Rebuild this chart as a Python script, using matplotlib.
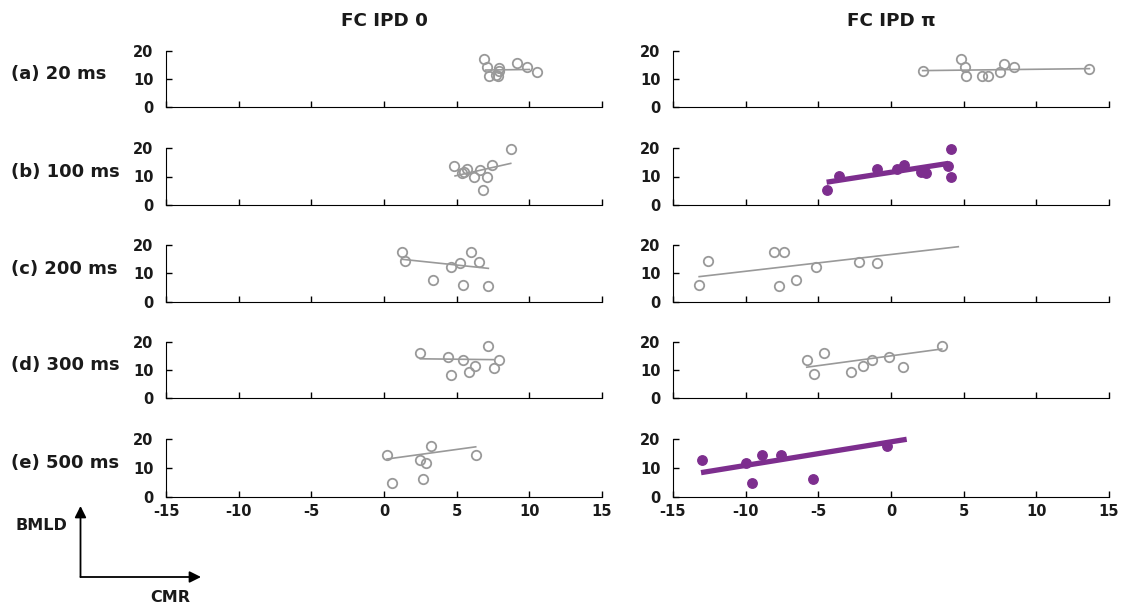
import matplotlib
matplotlib.use("Agg")
import matplotlib.pyplot as plt
from matplotlib.patches import FancyArrowPatch

plt.rcParams["font.family"] = ["DejaVu Sans"]
plt.rcParams["font.weight"] = "bold"
plt.rcParams["axes.unicode_minus"] = False

# row labels and column titles
row_labels = ["(a) 20 ms", "(b) 100 ms", "(c) 200 ms", "(d) 300 ms", "(e) 500 ms"]
col_titles = ["FC IPD 0", "FC IPD \u03c0"]

# FC IPD 0 : CMR (x) and BMLD (y) per row
ipd0_cmr = [
    [6.9, 7.07, 7.23, 7.7, 7.87, 7.94, 7.9, 9.18, 9.82, 10.5],
    [4.82, 5.35, 5.5, 5.73, 6.22, 6.6, 6.79, 7.11, 7.46, 8.72],
    [1.22, 1.45, 3.35, 4.59, 5.23, 5.46, 5.97, 6.56, 7.18],
    [2.5, 4.38, 4.59, 5.41, 5.83, 6.28, 7.18, 7.57, 7.94],
    [0.21, 0.53, 2.48, 2.7, 2.89, 3.23, 6.31],
]
ipd0_bmld = [
    [17.1, 14.4, 11.1, 11.5, 11.1, 13.8, 12.8, 15.6, 14.4, 12.6],
    [13.8, 11.3, 11.6, 12.5, 9.7, 12.3, 5.3, 9.9, 13.9, 19.6],
    [17.4, 14.4, 7.7, 12.2, 13.8, 6.0, 17.4, 14.1, 5.7],
    [16.0, 14.5, 8.2, 13.6, 9.2, 11.5, 18.7, 10.8, 13.7],
    [14.6, 4.9, 12.8, 6.3, 11.6, 17.7, 14.5],
]
ipd0_fit_x = [[7.0, 10.0], [4.89, 8.72], [1.22, 7.18], [2.5, 7.52], [0.21, 6.31]]
ipd0_fit_y = [[13.2, 13.4], [10.2, 14.6], [15.0, 11.8], [14.0, 13.7], [13.1, 17.3]]

# FC IPD pi
ipdpi_cmr = [
    [2.18, 4.82, 5.1, 5.14, 6.24, 6.7, 7.5, 7.78, 8.47, 13.65],
    [-4.38, -3.56, -0.99, 0.39, 0.92, 2.04, 2.39, 3.9, 4.11, 4.11],
    [-13.2, -12.57, -8.05, -7.71, -7.34, -6.54, -5.18, -2.2, -0.99],
    [-5.8, -5.32, -4.61, -2.78, -1.9, -1.29, -0.12, 0.8, 3.49],
    [-13.03, -10.0, -9.54, -8.9, -7.59, -5.39, -0.25],
]
ipdpi_bmld = [
    [13.0, 17.1, 14.4, 11.1, 11.2, 11.1, 12.6, 15.5, 14.4, 13.6],
    [5.3, 10.2, 12.5, 12.5, 13.9, 11.7, 11.1, 13.8, 19.6, 9.7],
    [6.0, 14.4, 17.4, 5.7, 17.4, 7.7, 12.2, 14.1, 13.8],
    [13.6, 8.5, 16.0, 9.3, 11.5, 13.7, 14.5, 11.0, 18.7],
    [12.8, 11.6, 4.9, 14.6, 14.6, 6.3, 17.7],
]
ipdpi_fit_x = [[2.18, 13.65], [-4.43, 3.95], [-13.2, 4.63], [-5.8, 3.49], [-13.07, 1.08]]
ipdpi_fit_y = [[13.0, 13.7], [8.0, 14.6], [8.9, 19.4], [11.0, 17.5], [8.4, 19.9]]
ipdpi_signif = [False, True, False, False, True]

x_ticks = [-15, -10, -5, 0, 5, 10, 15]
y_ticks = [0, 10, 20]

W, H = 1123, 610
fig = plt.figure(figsize=(W / 100, H / 100), dpi=100, facecolor="w")

col_left = [166, 673]
col_w = 436
row_span = [(51, 107), (148, 205), (245, 302), (342, 398), (439, 497)]

gray = "#999999"
purple = "#7d2e8e"
txt = "#1a1a1a"


def make_ax(col, row):
    top, bot = row_span[row]
    ax = fig.add_axes([col_left[col] / W, (H - bot) / H, col_w / W, (bot - top) / H])
    ax.set_xlim(-15, 15)
    ax.set_ylim(0, 20)
    ax.set_xticks(x_ticks)
    ax.set_yticks(y_ticks)
    for s in ["top", "right"]:
        ax.spines[s].set_visible(False)
    ax.tick_params(direction="in", length=4, width=1, labelsize=10.5, pad=9,
                   labelcolor=txt)
    if row < 4:
        ax.set_xticklabels([])
    else:
        ax.tick_params(axis="x", pad=5)
    for lab in ax.get_xticklabels() + ax.get_yticklabels():
        lab.set_fontweight("bold")
    return ax


for r in range(5):
    # left column
    ax = make_ax(0, r)
    ax.plot(ipd0_fit_x[r], ipd0_fit_y[r], color=gray, lw=1.2)
    ax.plot(ipd0_cmr[r], ipd0_bmld[r], "o", mfc="none", mec=gray, ms=6.8,
            mew=1.3, clip_on=False)

    # right column
    ax = make_ax(1, r)
    if ipdpi_signif[r]:
        ax.plot(ipdpi_fit_x[r], ipdpi_fit_y[r], color=purple, lw=3.8,
                solid_capstyle="butt", clip_on=False)
        ax.plot(ipdpi_cmr[r], ipdpi_bmld[r], "o", color=purple, ms=6.8,
                clip_on=False)
    else:
        ax.plot(ipdpi_fit_x[r], ipdpi_fit_y[r], color=gray, lw=1.2)
        ax.plot(ipdpi_cmr[r], ipdpi_bmld[r], "o", mfc="none", mec=gray,
                ms=6.8, mew=1.3, clip_on=False)

    top, bot = row_span[r]
    fig.text(11 / W, 1 - ((top + bot) / 2 - 5) / H, row_labels[r],
             fontsize=13, fontweight="bold", va="center", ha="left", color=txt)

for c in range(2):
    fig.text((col_left[c] + col_w / 2) / W, 1 - 21 / H, col_titles[c],
             fontsize=13.2, fontweight="bold", ha="center", va="center", color=txt)

# axis key arrows
arrow = dict(arrowstyle="-|>", color="black", lw=1.3, mutation_scale=17,
             shrinkA=0, shrinkB=0)
fig.add_artist(FancyArrowPatch((80.5 / W, 1 - 577 / H), (80.5 / W, 1 - 506 / H),
                               transform=fig.transFigure, **arrow))
fig.add_artist(FancyArrowPatch((80.5 / W, 1 - 577 / H), (201 / W, 1 - 577 / H),
                               transform=fig.transFigure, **arrow))
fig.text(41 / W, 1 - 526 / H, "BMLD", fontsize=11.5, fontweight="bold",
         ha="center", va="center", color=txt)
fig.text(170 / W, 1 - 598 / H, "CMR", fontsize=11.5, fontweight="bold",
         ha="center", va="center", color=txt)

fig.savefig("out.png", dpi=100, facecolor="w")
